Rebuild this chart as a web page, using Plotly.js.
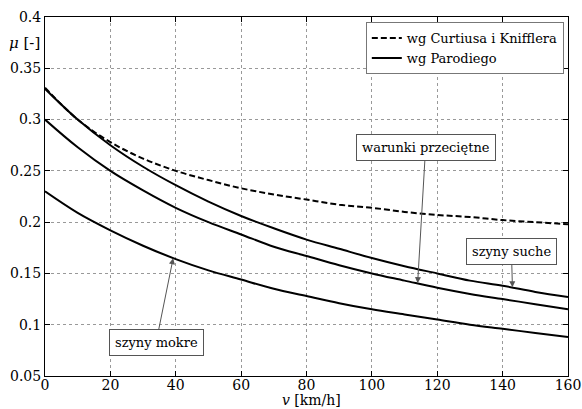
<!DOCTYPE html>
<html><head><meta charset="utf-8">
<script src="https://cdn.plot.ly/plotly-3.0.1.min.js"></script>
<style>html,body{margin:0;padding:0;background:#fff;}#chart{width:582px;height:409px;}</style>
</head><body><div id="chart"></div>
<script>
const speed = [0,10,20,30,40,50,60,70,80,90,100,110,120,130,140,150,160];
const curtiusKniffler = [0.331,0.300,0.278,0.262,0.250,0.241,0.233,0.227,0.222,0.217,0.214,0.210,0.207,0.205,0.202,0.200,0.198];
const parodiDry = [0.330,0.300,0.275,0.254,0.236,0.220,0.206,0.194,0.183,0.174,0.165,0.157,0.150,0.143,0.138,0.132,0.127];
const parodiAverage = [0.300,0.273,0.250,0.231,0.214,0.200,0.188,0.176,0.167,0.158,0.150,0.143,0.136,0.130,0.125,0.120,0.115];
const parodiWet = [0.230,0.209,0.192,0.177,0.164,0.153,0.144,0.135,0.128,0.121,0.115,0.110,0.105,0.100,0.096,0.092,0.088];
const xTicks = [0,20,40,60,80,100,120,140,160];
const yTicks = [0.05,0.1,0.15,0.2,0.25,0.3,0.35,0.4];
const yTickText = ["0.05","0.1","0.15","0.2","0.25","0.3","0.35","0.4"];
const legendNames = ["wg Curtiusa i Knifflera","wg Parodiego"];
const labels = ["warunki przeciętne","szyny suche","szyny mokre"];
const labelPoints = [[114,0.1405],[143,0.1365],[39.2,0.1648]];

const serif = "DejaVu Serif";
const lineStyle = {color:"#000", width:2, shape:"spline", smoothing:1};

const traces = [
  {x:speed, y:curtiusKniffler, mode:"lines", name:legendNames[0], line:Object.assign({}, lineStyle, {dash:"6px,3px"})},
  {x:speed, y:parodiDry, mode:"lines", name:legendNames[1], line:lineStyle},
  {x:speed, y:parodiAverage, mode:"lines", showlegend:false, line:lineStyle},
  {x:speed, y:parodiWet, mode:"lines", showlegend:false, line:lineStyle}
];

const annBase = {showarrow:true, arrowhead:2, arrowsize:1.2, arrowwidth:1, arrowcolor:"#555",
  bgcolor:"#fff", bordercolor:"#555", borderwidth:1, borderpad:5,
  font:{family:serif, size:13, color:"#000"}, xref:"x", yref:"y"};

const annotations = [
  Object.assign({}, annBase, {x:labelPoints[0][0], y:labelPoints[0][1], text:labels[0], ax:8, ay:-136}),
  Object.assign({}, annBase, {x:labelPoints[1][0], y:labelPoints[1][1], text:labels[1], ax:-1, ay:-36}),
  Object.assign({}, annBase, {x:labelPoints[2][0], y:labelPoints[2][1], text:labels[2], ax:-17, ay:84}),
  {xref:"paper", yref:"y", x:0, y:0.3747, xanchor:"right", yanchor:"middle", xshift:-3, showarrow:false,
   text:"<i>μ</i> [-]", font:{family:serif, size:15, color:"#000"}},
  {xref:"paper", yref:"paper", x:0.51, y:-0.0919, xanchor:"center", yanchor:"bottom", showarrow:false, borderpad:0,
   text:"<i>v</i> [km/h]", font:{family:serif, size:14, color:"#000"}}
];

const axisCommon = {showline:true, linecolor:"#000", linewidth:1, mirror:"ticks", ticks:"inside", ticklen:5,
  tickcolor:"#000", showgrid:true, gridcolor:"#999", griddash:"dot", gridwidth:1, zeroline:false,
  tickfont:{family:serif, size:14, color:"#000"}};

const layout = {
  width:582, height:409,
  margin:{l:45, r:14, t:17, b:33},
  paper_bgcolor:"#fff", plot_bgcolor:"#fff",
  showlegend:true,
  legend:{x:0.992, y:0.986, xanchor:"right", yanchor:"top", bgcolor:"#fff", bordercolor:"#777", borderwidth:1,
    font:{family:serif, size:13, color:"#000"}, itemwidth:30, tracegroupgap:0},
  xaxis:Object.assign({}, axisCommon, {range:[0,160], tickvals:xTicks, ticklabelstandoff:-4}),
  yaxis:Object.assign({}, axisCommon, {range:[0.05,0.4], tickvals:yTicks, ticktext:yTickText}),
  annotations:annotations
};

Plotly.newPlot("chart", traces, layout, {displayModeBar:false, staticPlot:true});
</script></body></html>
